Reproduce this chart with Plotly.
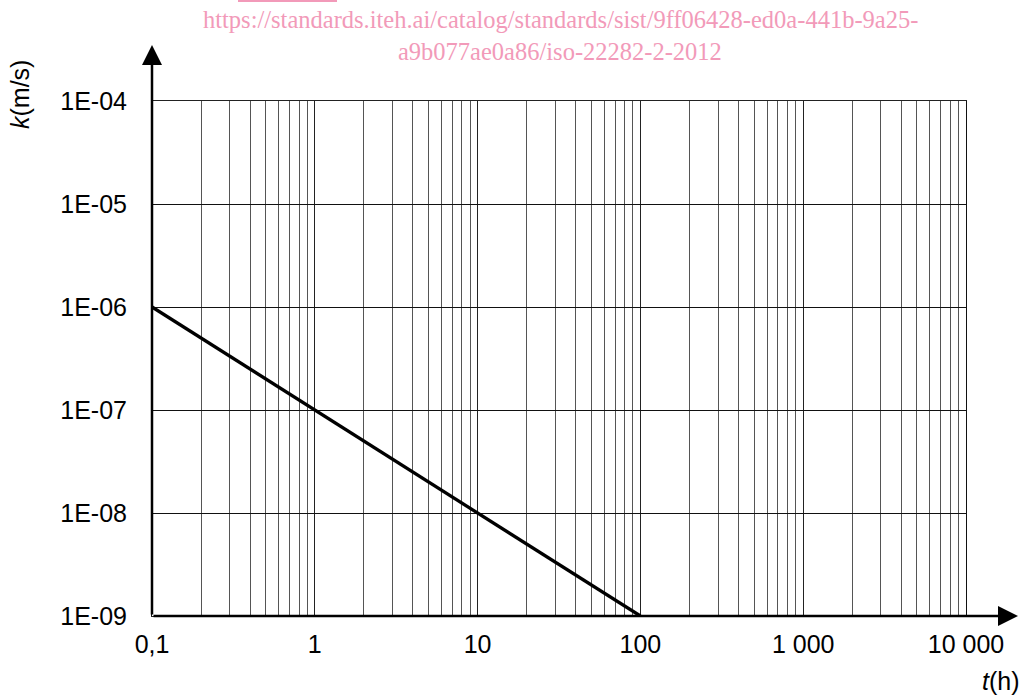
import plotly.graph_objects as go

# Data
t_hours = [0.1, 100]
k_values = [1e-6, 1e-9]

x_tickvals = [0.1, 1, 10, 100, 1000, 10000]
x_ticktext = ["0,1", "1", "10", "100", "1 000", "10 000"]
y_tickvals = [1e-9, 1e-8, 1e-7, 1e-6, 1e-5, 1e-4]
y_ticktext = ["1E-09", "1E-08", "1E-07", "1E-06", "1E-05", "1E-04"]
x_minor = [m * 10.0 ** e for e in range(-1, 4) for m in range(2, 10)]

W, H = 1019, 698
L, R, T, B = 152, 53, 101, 82
pw, ph = W - L - R, H - T - B

fig = go.Figure()
fig.add_trace(go.Scatter(x=t_hours, y=k_values, mode="lines",
                         line=dict(color="black", width=3.3), cliponaxis=False,
                         showlegend=False, hoverinfo="skip"))

font = dict(family="Liberation Sans, Arial, sans-serif", size=25, color="black")

fig.update_layout(
    width=W, height=H,
    margin=dict(l=L, r=R, t=T, b=B, pad=0, autoexpand=False),
    paper_bgcolor="white", plot_bgcolor="white",
    font=font,
    xaxis=dict(type="log", range=[-1, 4], tickmode="array", tickvals=x_tickvals,
               ticktext=x_ticktext, showgrid=True, gridcolor="#222222", gridwidth=1,
               zeroline=False, showline=True, mirror=True, linecolor="#222222", linewidth=1,
               ticks="outside", ticklen=6, automargin=False,
               tickcolor="rgba(0,0,0,0)", tickfont=font,
               minor=dict(tickmode="array", tickvals=x_minor, showgrid=True,
                          gridcolor="#555555", gridwidth=1, ticks="")),
    yaxis=dict(type="log", range=[-9, -4], tickmode="array", tickvals=y_tickvals,
               ticktext=y_ticktext, showgrid=True, gridcolor="#111111", gridwidth=1,
               zeroline=False, showline=True, mirror=True, linecolor="#111111", linewidth=1,
               ticks="outside", ticklen=19, automargin=False,
               tickcolor="rgba(0,0,0,0)", tickfont=font),
)

# Axis arrows
x_tip = (1019 - L) / pw
y_tip = (616 - 45) / ph
fig.add_annotation(x=x_tip, y=0, xref="paper", yref="paper", ax=-(1019 - L), ay=0,
                   text="", showarrow=True, arrowhead=2, arrowsize=1.6,
                   arrowwidth=2.5, arrowcolor="black", standoff=0, startstandoff=0)
fig.add_annotation(x=0, y=y_tip, xref="paper", yref="paper", ax=0, ay=(616 - 45),
                   text="", showarrow=True, arrowhead=2, arrowsize=1.6,
                   arrowwidth=2.5, arrowcolor="black", standoff=0, startstandoff=0)

# Axis titles
fig.add_annotation(x=(20 - L) / pw, y=(616 - 95) / ph, xref="paper", yref="paper",
                   text="<i>k</i>(m/s)", textangle=-90, showarrow=False, font=font,
                   xanchor="center", yanchor="middle")
fig.add_annotation(x=(980 - L) / pw, y=(616 - 681) / ph, xref="paper", yref="paper",
                   text="<i>t</i>(h)", showarrow=False, font=font,
                   xanchor="left", yanchor="middle")

# Watermark
wm_font = dict(family="Liberation Serif, Times New Roman, serif", size=24.5, color="#f29ab9")
fig.add_annotation(x=(560 - L) / pw, y=(616 - 20) / ph, xref="paper", yref="paper",
                   text="https://standards.iteh.ai/catalog/standards/sist/9ff06428-ed0a-441b-9a25-",
                   showarrow=False, font=wm_font, xanchor="center", yanchor="middle")
fig.add_annotation(x=(560 - L) / pw, y=(616 - 52) / ph, xref="paper", yref="paper",
                   text="a9b077ae0a86/iso-22282-2-2012",
                   showarrow=False, font=wm_font, xanchor="center", yanchor="middle")
fig.add_shape(type="rect", xref="paper", yref="paper",
              x0=(238 - L) / pw, x1=(337 - L) / pw, y0=(616 - 2) / ph, y1=(616 + 1) / ph,
              fillcolor="#f29ab9", line=dict(width=0))

fig.write_html("out.html", config={"displayModeBar": False},
               post_script="document.body.style.margin='0';")
